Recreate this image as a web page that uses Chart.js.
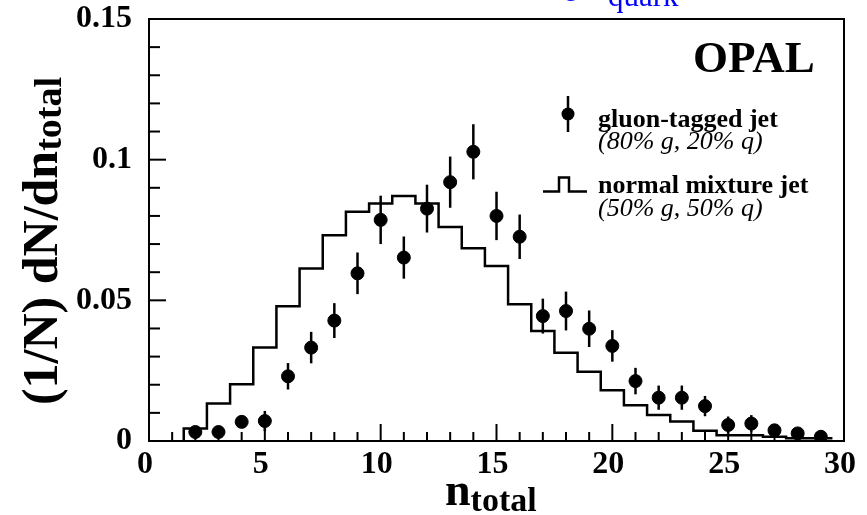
<!DOCTYPE html>
<html>
<head>
<meta charset="utf-8">
<script src="https://cdn.jsdelivr.net/npm/chart.js@4.4.1/dist/chart.umd.min.js"></script>
<style>
  html, body { margin: 0; padding: 0; background: #fff; }
</style>
</head>
<body>
<canvas id="multChart" width="867" height="515"></canvas>
<script>
// n_total bins (bin centres)
const nValues = [2, 3, 4, 5, 6, 7, 8, 9, 10, 11, 12, 13, 14, 15, 16, 17, 18, 19, 20, 21, 22, 23, 24, 25, 26, 27, 28, 29];
// gluon-tagged jet (80% g, 20% q) - points with errors
const gluonTagged = [0.0032, 0.0032, 0.0068, 0.0071, 0.0230, 0.0332, 0.0428, 0.0596, 0.0786, 0.0652, 0.0826, 0.0920, 0.1028, 0.0800, 0.0726, 0.0444, 0.0462, 0.0399, 0.0338, 0.0213, 0.0154, 0.0154, 0.0124, 0.0057, 0.0062, 0.0038, 0.0027, 0.0015];
const gluonErr = [0.0015, 0.0015, 0.0020, 0.0036, 0.0047, 0.0056, 0.0062, 0.0074, 0.0086, 0.0075, 0.0085, 0.0091, 0.0098, 0.0086, 0.0079, 0.0062, 0.0069, 0.0065, 0.0056, 0.0047, 0.0043, 0.0043, 0.0036, 0.0030, 0.0030, 0.0022, 0.0018, 0.0015];
// normal mixture jet (50% g, 50% q) - histogram
const normalMixture = [0.0032, 0.0044, 0.0133, 0.0202, 0.0332, 0.0479, 0.0613, 0.0731, 0.0815, 0.0844, 0.0871, 0.0844, 0.0761, 0.0685, 0.0622, 0.0486, 0.0391, 0.0314, 0.0246, 0.0180, 0.0127, 0.0092, 0.0069, 0.0036, 0.0020, 0.0020, 0.0015, 0.0010];
// tick labels
const xTickValues = [0, 5, 10, 15, 20, 25, 30];
const xTickLabels = ['0', '5', '10', '15', '20', '25', '30'];
const yTickValues = [0, 0.05, 0.1, 0.15];
const yTickLabels = ['0', '0.05', '0.1', '0.15'];

const SERIF = '"Liberation Serif", "DejaVu Serif", serif';

// histogram as step line: edges at n +- 0.5
const histPoints = [{ x: nValues[0] - 0.5, y: 0 }];
nValues.forEach((n, i) => histPoints.push({ x: n - 0.5, y: normalMixture[i] }));
histPoints.push({ x: nValues[nValues.length - 1] + 0.5, y: normalMixture[normalMixture.length - 1] });

const gluonPoints = nValues.map((n, i) => ({ x: n, y: gluonTagged[i] }));

// error bars for gluon points
const errorBars = {
  id: 'errorBars',
  afterDatasetsDraw(chart) {
    const { ctx, scales: { x, y } } = chart;
    ctx.save();
    ctx.strokeStyle = '#000';
    ctx.lineWidth = 2.5;
    nValues.forEach((n, i) => {
      const px = x.getPixelForValue(n);
      ctx.beginPath();
      ctx.moveTo(px, y.getPixelForValue(Math.max(0, gluonTagged[i] - gluonErr[i])));
      ctx.lineTo(px, y.getPixelForValue(gluonTagged[i] + gluonErr[i]));
      ctx.stroke();
    });
    ctx.restore();
  }
};

// frame, inward ticks, titles, legend, labels
const decorations = {
  id: 'decorations',
  afterDraw(chart) {
    const { ctx, chartArea: a, scales: { x, y } } = chart;
    ctx.save();
    ctx.strokeStyle = '#000';
    ctx.lineWidth = 2;
    ctx.strokeRect(a.left, a.top, a.right - a.left, a.bottom - a.top);

    // x ticks, every 1, major every 5
    for (let n = 1; n < 30; n++) {
      const px = x.getPixelForValue(n);
      const len = n % 5 === 0 ? 17 : 9;
      ctx.beginPath();
      ctx.moveTo(px, a.bottom);
      ctx.lineTo(px, a.bottom - len);
      ctx.stroke();
    }
    // y ticks, every 0.01, major every 0.05
    for (let k = 1; k <= 15; k++) {
      const py = y.getPixelForValue(k / 100);
      const len = k % 5 === 0 ? 17 : 11;
      ctx.beginPath();
      ctx.moveTo(a.left, py);
      ctx.lineTo(a.left + len, py);
      ctx.stroke();
    }

    ctx.fillStyle = '#000';
    ctx.textBaseline = 'alphabetic';
    ctx.textAlign = 'left';

    // y title, rotated
    ctx.save();
    ctx.translate(57, 241);
    ctx.rotate(-Math.PI / 2);
    const mainY = '(1/N) dN/dn';
    ctx.font = 'bold 50px ' + SERIF;
    const w1 = ctx.measureText(mainY).width;
    ctx.font = 'bold 38px ' + SERIF;
    const w2 = ctx.measureText('total').width;
    const x0 = -(w1 + w2) / 2;
    ctx.font = 'bold 50px ' + SERIF;
    ctx.fillText(mainY, x0, 0);
    ctx.font = 'bold 38px ' + SERIF;
    ctx.fillText('total', x0 + w1, 4);
    ctx.restore();

    // x title
    ctx.font = 'bold 46px ' + SERIF;
    ctx.fillText('n', 445, 505);
    const wn = ctx.measureText('n').width;
    ctx.font = 'bold 34px ' + SERIF;
    ctx.fillText('total', 445 + wn, 511);

    // OPAL
    ctx.font = 'bold 45px ' + SERIF;
    ctx.fillText('OPAL', 693, 72);

    // legend
    ctx.beginPath();
    ctx.arc(568, 114, 6.5, 0, Math.PI * 2);
    ctx.fill();
    ctx.lineWidth = 2.5;
    ctx.beginPath();
    ctx.moveTo(568, 96);
    ctx.lineTo(568, 132);
    ctx.stroke();
    ctx.beginPath();
    ctx.moveTo(543, 191.5);
    ctx.lineTo(559, 191.5);
    ctx.lineTo(559, 177.5);
    ctx.lineTo(569, 177.5);
    ctx.lineTo(569, 191.5);
    ctx.lineTo(587, 191.5);
    ctx.stroke();
    ctx.font = 'bold 26px ' + SERIF;
    ctx.fillText('gluon-tagged jet', 598, 127);
    ctx.fillText('normal mixture jet', 598, 193);
    ctx.font = 'italic 26px ' + SERIF;
    ctx.fillText('(80% g, 20% q)', 598, 149);
    ctx.fillText('(50% g, 50% q)', 598, 216);

    // cut-off blue text at the top
    ctx.fillStyle = '#0000ff';
    ctx.font = '24px ' + SERIF;
    ctx.fillText('g', 565, -4);
    ctx.font = '31px ' + SERIF;
    ctx.fillText('quark', 608, 6);
    ctx.restore();
  }
};

const ctx = document.getElementById('multChart').getContext('2d');
new Chart(ctx, {
  type: 'scatter',
  data: {
    datasets: [
      {
        type: 'line',
        label: 'normal mixture jet',
        data: histPoints,
        stepped: 'after',
        borderColor: '#000',
        borderWidth: 2.5,
        pointRadius: 0,
        fill: false,
        order: 2
      },
      {
        label: 'gluon-tagged jet',
        data: gluonPoints,
        backgroundColor: '#000',
        borderColor: '#000',
        pointRadius: 6.5,
        pointHoverRadius: 6.5,
        order: 1
      }
    ]
  },
  options: {
    responsive: false,
    animation: false,
    layout: { padding: { left: 0, right: 23, top: 19, bottom: 0 } },
    plugins: {
      legend: { display: false },
      tooltip: { enabled: false }
    },
    scales: {
      x: {
        type: 'linear',
        min: 0,
        max: 30,
        grid: { display: false, drawTicks: false },
        border: { display: false },
        afterFit(scale) {
          scale.height = 74;
          scale.paddingLeft = 0;
          scale.paddingRight = 0;
        },
        afterBuildTicks(scale) { scale.ticks = xTickValues.map(v => ({ value: v })); },
        ticks: {
          color: '#000',
          font: { family: SERIF, size: 32, weight: 'bold' },
          padding: 5,
          labelOffset: -4,
          maxRotation: 0,
          autoSkip: false,
          callback: (v, i) => xTickLabels[i]
        }
      },
      y: {
        type: 'linear',
        min: 0,
        max: 0.15,
        grid: { display: false, drawTicks: false },
        border: { display: false },
        afterFit(scale) {
          scale.width = 149;
          scale.paddingTop = 0;
          scale.paddingBottom = 0;
        },
        afterBuildTicks(scale) { scale.ticks = yTickValues.map(v => ({ value: v })); },
        ticks: {
          color: '#000',
          font: { family: SERIF, size: 32, weight: 'bold' },
          padding: 17,
          autoSkip: false,
          callback: (v, i) => yTickLabels[i]
        }
      }
    }
  },
  plugins: [errorBars, decorations]
});
</script>
</body>
</html>
